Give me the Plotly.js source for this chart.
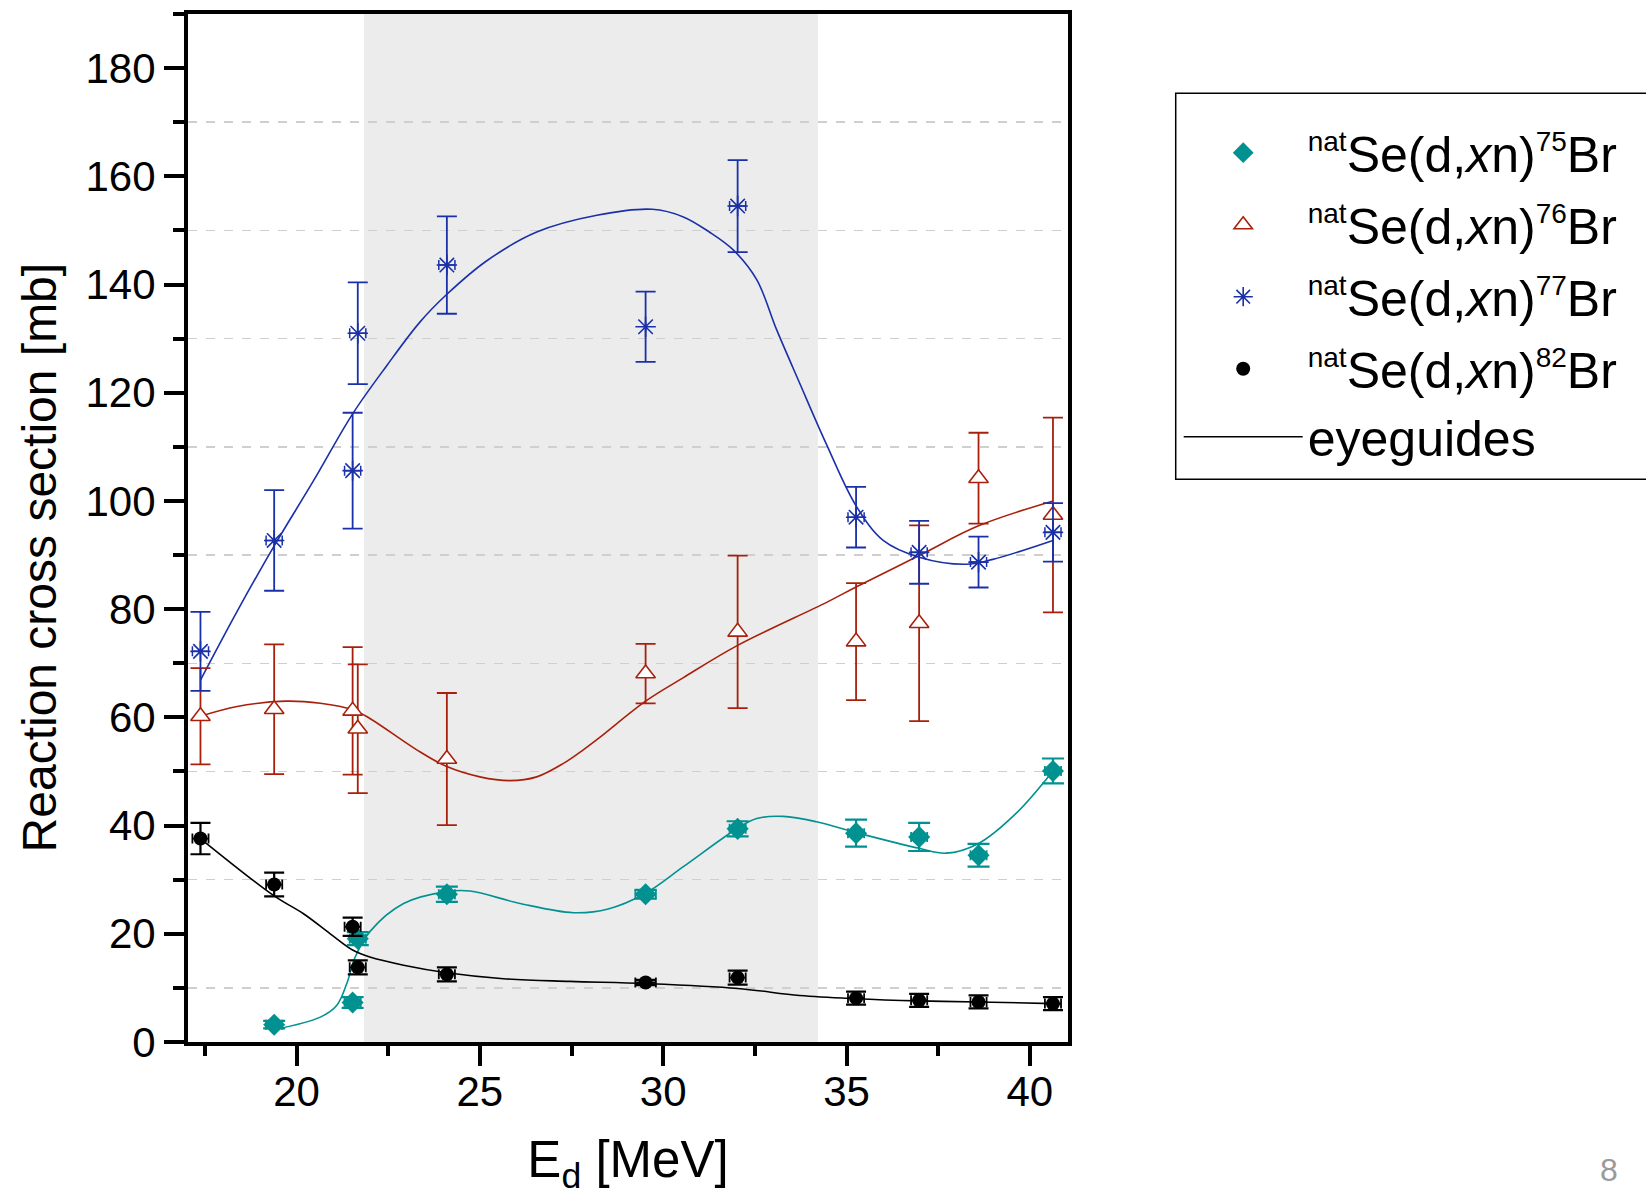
<!DOCTYPE html>
<html>
<head>
<meta charset="utf-8">
<script src="https://cdn.plot.ly/plotly-3.0.1.min.js"></script>
<style>html,body{margin:0;padding:0;background:#fff;}#chart{width:1646px;height:1199px;}</style>
</head>
<body>
<div id="chart"></div>
<script>
// ---- measured data (E in MeV, sigma in mb) ----
const E75   = [19.39, 21.53, 21.67, 24.10, 29.52, 32.03, 35.26, 36.98, 38.60, 40.63];
const sig75 = [3.2, 7.3, 19.1, 27.3, 27.3, 39.4, 38.6, 37.9, 34.5, 50.1];
const err75 = [0.7, 1.0, 1.2, 1.4, 0.8, 1.4, 2.5, 2.6, 2.1, 2.3];
const dE75  = [0.22, 0.22, 0.22, 0.22, 0.28, 0.22, 0.22, 0.22, 0.22, 0.22];

const E76   = [17.38, 19.39, 21.53, 21.67, 24.10, 29.52, 32.03, 35.26, 36.98, 38.60, 40.63];
const sig76 = [60.2, 61.5, 61.2, 57.9, 52.3, 68.1, 75.8, 74.0, 77.4, 104.2, 97.4];
const err76 = [8.9, 12.0, 11.8, 11.9, 12.2, 5.5, 14.1, 10.8, 18.1, 8.4, 18.0];

const E77   = [17.38, 19.39, 21.53, 21.67, 24.10, 29.52, 32.03, 35.26, 36.98, 38.60, 40.63];
const sig77 = [72.2, 92.7, 105.6, 131.0, 143.6, 132.2, 154.5, 97.0, 90.5, 88.7, 94.2];
const err77 = [7.3, 9.3, 10.7, 9.4, 9.0, 6.5, 8.5, 5.6, 5.8, 4.7, 5.4];
const dE77  = [0.22, 0.22, 0.22, 0.22, 0.22, 0, 0.22, 0.22, 0.22, 0.22, 0.22];

const E82   = [17.38, 19.39, 21.53, 21.67, 24.10, 29.52, 32.03, 35.26, 36.98, 38.60, 40.63];
const sig82 = [37.6, 29.1, 21.3, 13.8, 12.5, 11.0, 11.9, 8.1, 7.7, 7.4, 7.1];
const err82 = [2.9, 2.2, 1.7, 1.3, 1.3, 0.5, 1.3, 1.2, 1.2, 1.2, 1.2];
const dE82  = [0.22, 0.22, 0.22, 0.22, 0.22, 0.28, 0.22, 0.22, 0.22, 0.22, 0.22];

// ---- eyeguide curves ----
const guide75E = [19.39, 20.65, 21.10, 21.37, 21.60, 22.00, 22.92, 24.10, 24.73, 26.10, 27.55, 28.50, 29.52, 30.55, 32.03, 32.55, 33.27, 34.18, 35.26, 36.98, 37.72, 38.60, 39.63, 40.63];
const guide75S = [2.3, 4.6, 6.8, 10.8, 15.7, 20.4, 25.6, 27.8, 27.9, 25.6, 23.9, 24.6, 27.5, 32.4, 39.5, 41.3, 41.7, 40.7, 38.7, 35.8, 34.9, 36.7, 42.3, 50.1];

const guide76E = [17.38, 18.38, 19.70, 20.65, 21.53, 22.00, 23.28, 24.10, 25.00, 25.82, 26.55, 27.28, 27.82, 28.27, 29.52, 30.54, 32.03, 34.47, 35.26, 36.98, 38.60, 40.63];
const guide76S = [60.2, 62.0, 63.0, 62.6, 61.4, 59.8, 54.0, 50.9, 49.0, 48.3, 49.0, 51.5, 54.0, 56.3, 63.0, 67.3, 73.3, 81.3, 84.1, 89.9, 95.4, 100.0];

const guide77E = [17.38, 18.38, 19.39, 20.46, 21.53, 22.46, 23.37, 24.10, 25.19, 26.55, 28.19, 29.70, 30.55, 31.26, 31.91, 32.55, 33.09, 33.72, 34.45, 35.26, 36.00, 36.98, 38.27, 38.99, 40.63];
const guide77S = [66.9, 79.6, 91.7, 103.7, 116.1, 125.0, 133.1, 138.2, 144.4, 149.7, 152.8, 153.9, 152.5, 149.7, 146.4, 140.9, 131.7, 121.8, 110.5, 99.1, 92.7, 89.6, 88.3, 89.2, 92.7];

const guide82E = [17.38, 19.39, 20.19, 20.92, 21.53, 22.00, 22.92, 24.10, 25.64, 27.46, 29.52, 32.03, 33.72, 35.26, 36.98, 38.60, 40.63];
const guide82S = [37.6, 27.0, 23.7, 20.0, 17.0, 15.7, 14.2, 12.8, 11.7, 11.2, 10.8, 9.9, 8.6, 8.0, 7.6, 7.4, 7.1];

// shaded energy window and axis settings
const shadeRange = [21.84, 34.22];
const xRange = [17.04, 41.04];
const yRange = [0, 190];

const C75 = '#009190', C76 = '#a8200c', C77 = '#1a30a8', C82 = '#000000';
const FONT = 'Arial, "Liberation Sans", sans-serif';

function sup(t) { return '<sup><span style="font-size:28px">' + t + '</span></sup>'; }
function label(a) { return sup('nat') + 'Se(d,<i>x</i>n)' + sup(a) + 'Br'; }

function guide(x, y, color, name, show, rank, group) {
  return {x: x, y: y, mode: 'lines', type: 'scatter', name: name, showlegend: show,
          legendrank: rank, legendgroup: group, hoverinfo: 'skip',
          line: {color: color, width: 1.6, shape: 'spline', smoothing: 1}};
}

const traces = [
  guide(guide76E, guide76S, C76, 'g76', false, 10, 'g76'),
  guide(guide77E, guide77S, C77, 'g77', false, 10, 'g77'),
  guide(guide75E, guide75S, C75, 'g75', false, 10, 'g75'),
  guide(guide82E, guide82S, C82, 'eyeguides', true, 5, 'a82'),
  {x: E76, y: sig76, mode: 'markers', type: 'scatter', legendrank: 2, legendgroup: 'a76',
   name: label('76'),
   marker: {symbol: 'triangle-up', size: 17, color: '#ffffff', line: {color: C76, width: 1.6}},
   error_y: {type: 'data', array: err76, visible: true, color: C76, thickness: 1.8, width: 10}},
  {x: E77, y: sig77, mode: 'markers', type: 'scatter', legendrank: 3, legendgroup: 'a77',
   name: label('77'),
   marker: {symbol: 'asterisk-open', size: 17, color: C77, line: {color: C77, width: 1.6}},
   error_y: {type: 'data', array: err77, visible: true, color: C77, thickness: 1.8, width: 10},
   error_x: {type: 'data', array: dE77, visible: true, color: C77, thickness: 1.5, width: 5}},
  {x: E75, y: sig75, mode: 'markers', type: 'scatter', legendrank: 1, legendgroup: 'a75',
   name: label('75'),
   marker: {symbol: 'diamond', size: 17, color: C75},
   error_y: {type: 'data', array: err75, visible: true, color: C75, thickness: 2.2, width: 11},
   error_x: {type: 'data', array: dE75, visible: true, color: C75, thickness: 1.8, width: 5}},
  {x: E82, y: sig82, mode: 'markers', type: 'scatter', legendrank: 4, legendgroup: 'a82',
   name: label('82'),
   marker: {symbol: 'circle', size: 14, color: C82},
   error_y: {type: 'data', array: err82, visible: true, color: C82, thickness: 2.2, width: 10},
   error_x: {type: 'data', array: dE82, visible: true, color: C82, thickness: 1.8, width: 5}},
  {x: [], y: [], yaxis: 'y2', showlegend: false, hoverinfo: 'skip', type: 'scatter', mode: 'markers'}
];

const layout = {
  width: 1646, height: 1199,
  margin: {l: 188, r: 578, t: 14, b: 157, autoexpand: false},
  paper_bgcolor: '#ffffff', plot_bgcolor: '#ffffff',
  font: {family: FONT, color: '#000'},
  showlegend: true,
  legend: {x: 1.1258, y: 0.903, xanchor: 'left', yanchor: 'top', bgcolor: 'rgba(0,0,0,0)',
           borderwidth: 0, font: {size: 50, family: FONT, color: '#000'}, itemwidth: 119,
           tracegroupgap: 4, traceorder: 'grouped'},
  xaxis: {range: xRange, tickmode: 'linear', tick0: 0, dtick: 5,
          ticks: 'outside', ticklen: 20, tickwidth: 4, tickcolor: '#000',
          showline: true, linewidth: 4, linecolor: '#000', mirror: true,
          showgrid: false, zeroline: false, tickfont: {size: 42, color: '#000'},
          ticklabelstandoff: -10,
          minor: {tick0: 0, dtick: 2.5, ticks: 'outside', ticklen: 10, tickwidth: 4, tickcolor: '#000', showgrid: false},
          title: {text: 'E<sub>d</sub> [MeV]', font: {size: 51, color: '#000'}, standoff: 28}},
  yaxis: {range: yRange, tickmode: 'linear', tick0: 0, dtick: 20,
          ticks: 'outside', ticklen: 20, tickwidth: 4, tickcolor: '#000',
          showline: true, linewidth: 4, linecolor: '#000', mirror: true,
          showgrid: false, zeroline: false, tickfont: {size: 42, color: '#000'},
          minor: {tick0: 0, dtick: 10, ticks: 'outside', ticklen: 11, tickwidth: 4, tickcolor: '#000',
                  showgrid: true, gridcolor: '#cfcfcf', griddash: 'dash', gridwidth: 1.5}},
  yaxis2: {range: yRange, overlaying: 'y', side: 'right', anchor: 'x', tickmode: 'linear', tick0: 0, dtick: 10,
           ticks: 'outside', ticklen: 3, tickwidth: 2, tickcolor: '#000', showticklabels: false,
           showgrid: false, zeroline: false, showline: false},
  shapes: [
    {type: 'rect', xref: 'x', yref: 'paper', x0: shadeRange[0], x1: shadeRange[1], y0: 0, y1: 1,
     fillcolor: '#ececec', line: {width: 0}, layer: 'below'},
    {type: 'rect', xref: 'paper', yref: 'paper', x0: 1.1224, x1: 1.70, y0: 0.5474, y1: 0.9229,
     fillcolor: 'rgba(0,0,0,0)', line: {color: '#000', width: 1.5}}
  ],
  annotations: [
    {text: 'Reaction cross section [mb]', xref: 'paper', yref: 'paper', x: -0.1693, y: 0.4714,
     textangle: -90, showarrow: false, xanchor: 'center', yanchor: 'middle',
     font: {size: 48, color: '#000'}},
    {text: '8', xref: 'paper', yref: 'paper', x: 1.6148, y: -0.1245, showarrow: false,
     xanchor: 'center', yanchor: 'middle', font: {size: 32, color: '#9a9a9a'}}
  ]
};

Plotly.newPlot('chart', traces, layout, {displayModeBar: false, staticPlot: true});
</script>
</body>
</html>
